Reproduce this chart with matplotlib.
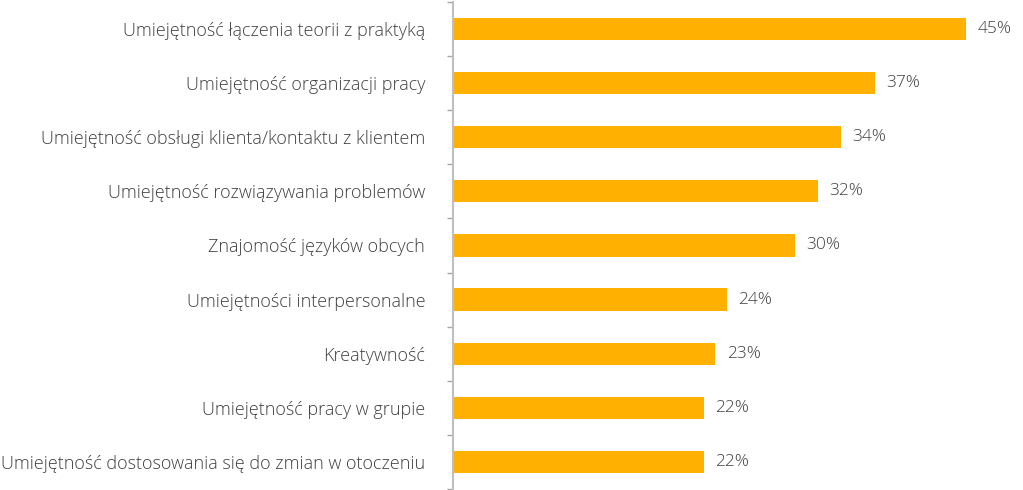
import matplotlib
matplotlib.use("Agg")
import matplotlib.pyplot as plt
import numpy as np

categories = [
    "Umiejętność łączenia teorii z praktyką",
    "Umiejętność organizacji pracy",
    "Umiejętność obsługi klienta/kontaktu z klientem",
    "Umiejętność rozwiązywania problemów",
    "Znajomość języków obcych",
    "Umiejętności interpersonalne",
    "Kreatywność",
    "Umiejętność pracy w grupie",
    "Umiejętność dostosowania się do zmian w otoczeniu",
]
values = [45, 37, 34, 32, 30, 24, 23, 22, 22]
value_labels = ["45%", "37%", "34%", "32%", "30%", "24%", "23%", "22%", "22%"]

plt.rcParams['font.family'] = ['Open Sans', 'DejaVu Sans']

fig = plt.figure(figsize=(10.23, 4.9), dpi=100)
ax = fig.add_axes([453/1023, 0.0, 1 - 453/1023, 488/490])

y = np.arange(len(categories))
ax.barh(y, values, height=0.41, color="#FFB000")
ax.set_ylim(len(categories) - 0.5 + 0.02, -0.5)
ax.set_xlim(0, 50)

for yi, v, lab in zip(y, values, value_labels):
    ax.text(v + 1.0, yi, lab, va="center", ha="left", fontsize=12.5,
            color="#404040", fontweight="light")

ax.set_yticks(y)
ax.set_yticklabels(categories, fontsize=13, color="#404040", fontweight="light")
ax.tick_params(axis="y", which="major", length=0, pad=20)
ax.set_yticks(np.arange(-0.5, len(categories) + 0.5, 1), minor=True)
ax.tick_params(axis="y", which="minor", length=4, color="#A6A6A6", width=1)
ax.set_xticks([])
for s in ["top", "right", "bottom"]:
    ax.spines[s].set_visible(False)
ax.spines["left"].set_color("#BFBFBF")
ax.spines["left"].set_linewidth(1.5)

fig.savefig("out.png", dpi=100)
